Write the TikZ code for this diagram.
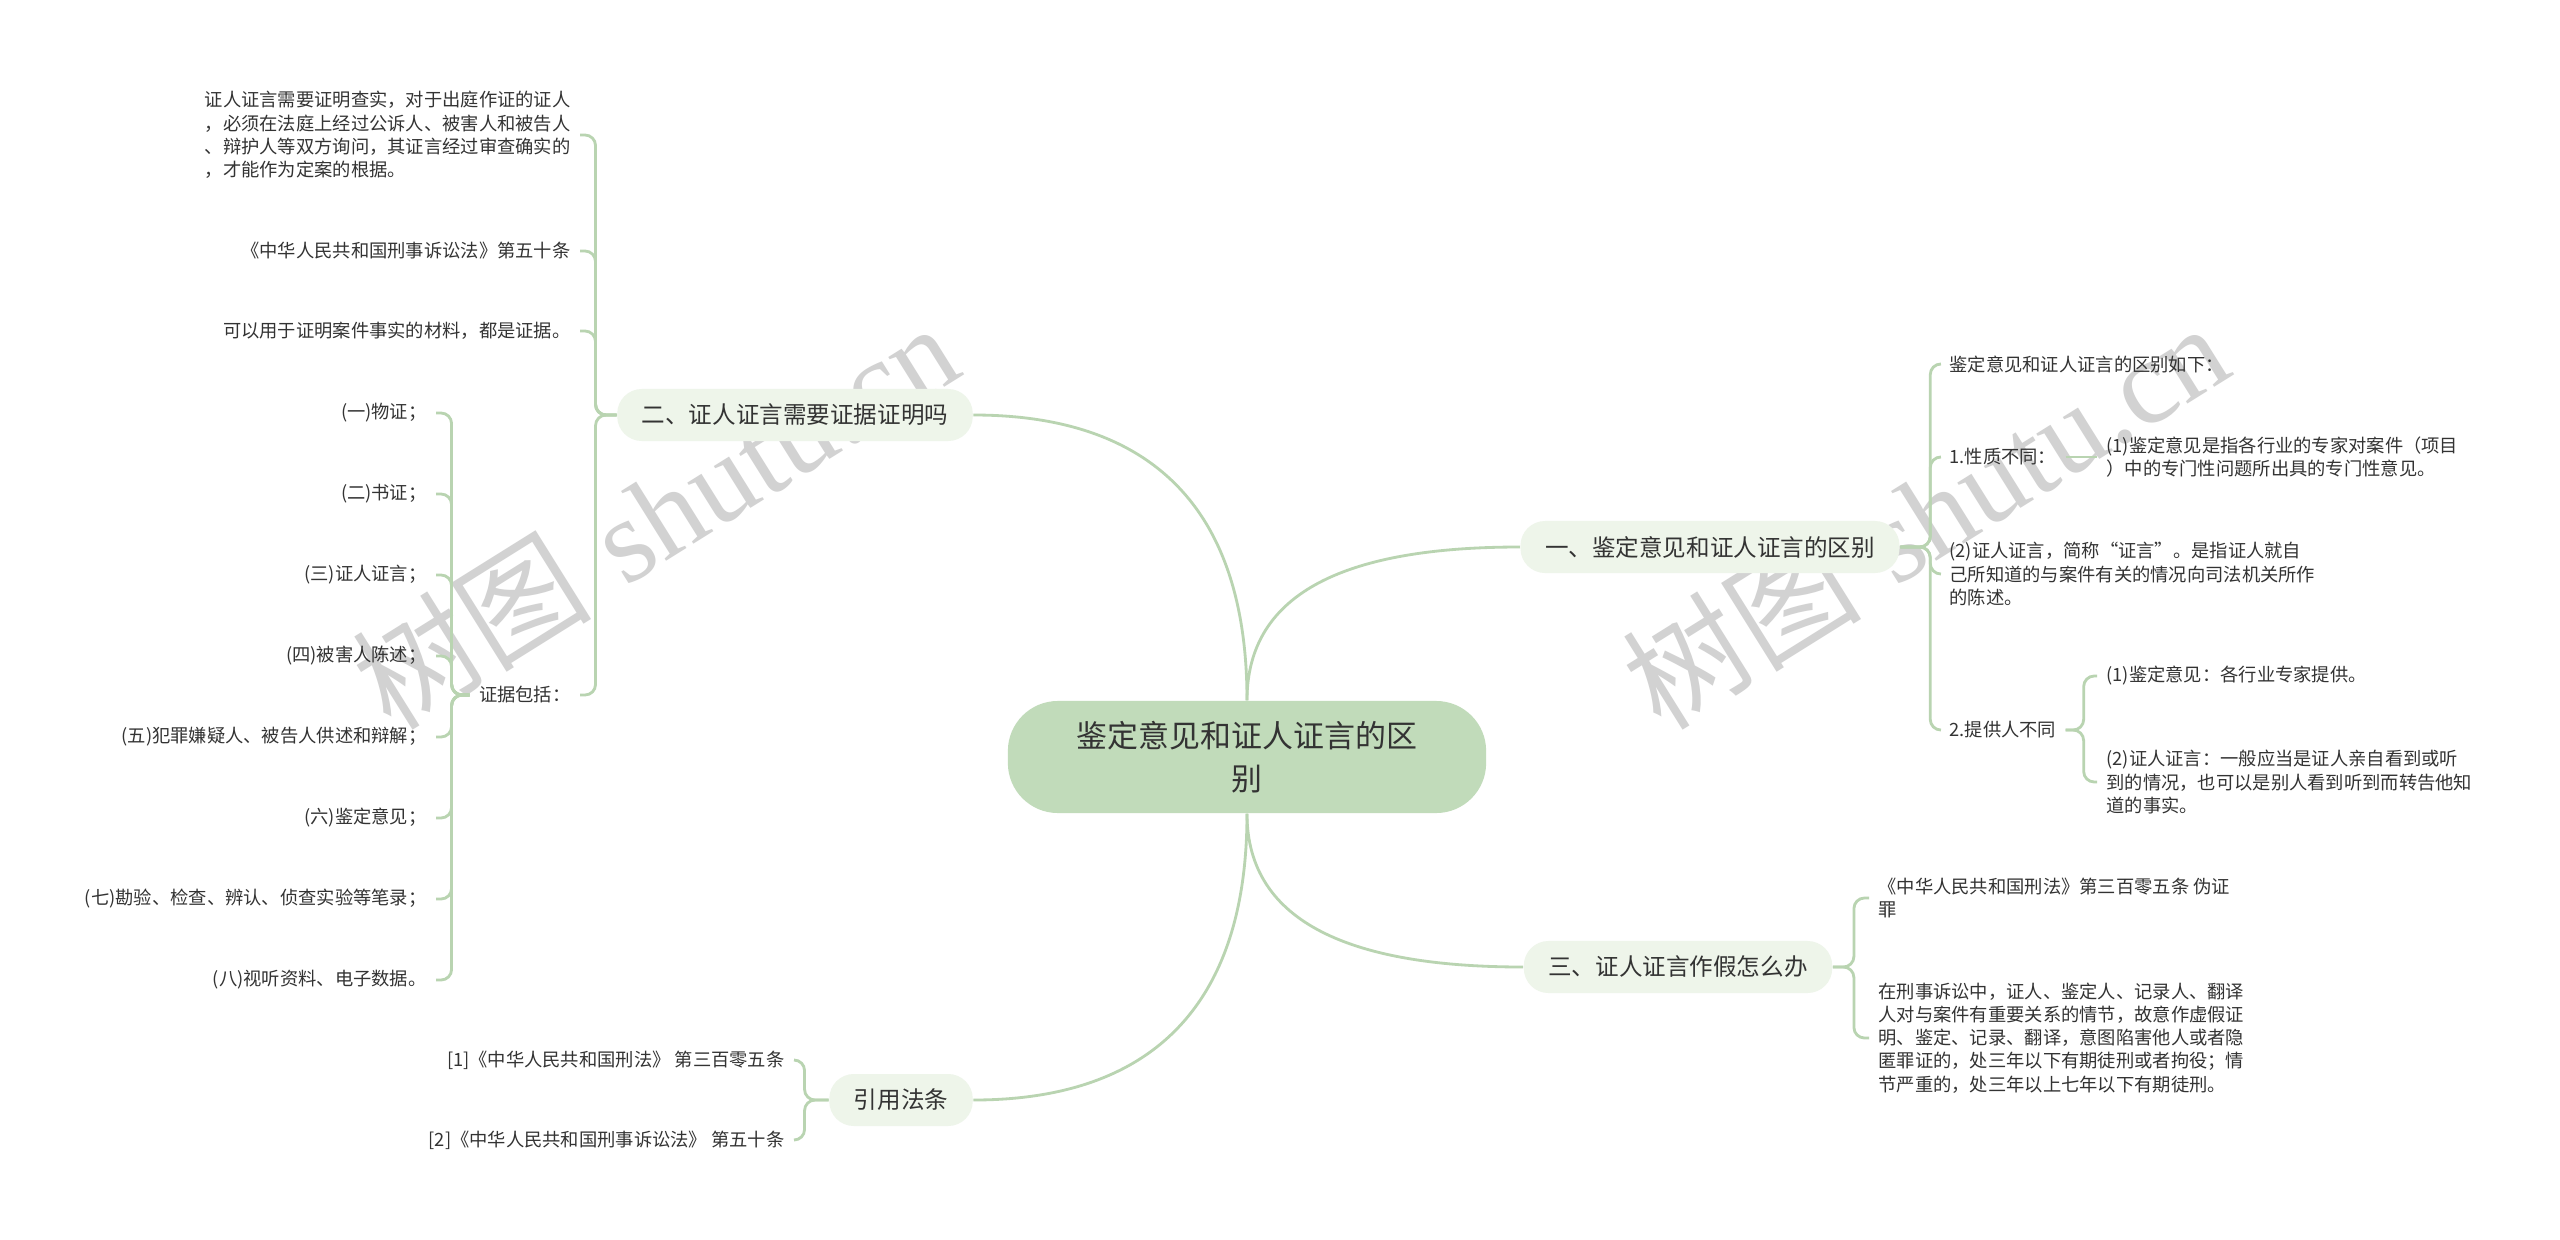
\documentclass[tikz,border=0pt]{standalone}
\usepackage{fontspec}
\usepackage{xcolor}
\usetikzlibrary{positioning, calc}
\newfontfamily\cjk{Noto Sans CJK SC}
\newfontfamily\wmfont{Liberation Serif}
\definecolor{ink}{HTML}{333333}
\definecolor{twig}{HTML}{B9D4B1}
\definecolor{rootfill}{HTML}{C1DBBA}
\definecolor{branchfill}{HTML}{EEF5EA}
\definecolor{wmgray}{HTML}{D2D2D2}

\begin{document}
\begin{tikzpicture}[x=0.01cm, y=-0.01cm, font=\cjk, text=ink,
  rootbox/.style={rectangle, fill=rootfill, rounded corners=0.5cm, minimum width=4.78cm,
                  minimum height=1.12cm, align=center, font=\cjk\fontsize{8.8pt}{12.2pt}\selectfont},
  branchbox/.style={rectangle, fill=branchfill, rounded corners=7pt, inner xsep=7pt,
                    minimum height=0.52cm, font=\cjk\fontsize{6.7pt}{8pt}\selectfont},
  leaf/.style={inner xsep=2.5pt, inner ysep=1pt, align=left, font=\cjk\fontsize{5.2pt}{6.6pt}\selectfont},
  link/.style={draw=twig, line width=0.8pt, rounded corners=3pt},
  wm/.style={text=wmgray, rotate=32, font=\fontsize{34pt}{34pt}\selectfont}]
  \fill[white] (0,0) rectangle (2560,1239);
  \useasboundingbox (0,0) rectangle (2560,1239);

  % watermarks
  \node[wm] (wmL) at (655,515) {{\cjk 树图} {\wmfont shutu.cn}};
  \node[wm] (wmR) at (1925,515) {{\cjk 树图} {\wmfont shutu.cn}};

  % root and main branches
  \node[rootbox] (root) at (1247,757) {鉴定意见和证人证言的区\\别};
  \node[branchbox] (er) at (795,415) {二、证人证言需要证据证明吗};
  \node[branchbox] (yi) at (1710,547) {一、鉴定意见和证人证言的区别};
  \node[branchbox] (san) at (1678,967) {三、证人证言作假怎么办};
  \node[branchbox] (yin) at (901,1100) {引用法条};

  \draw[link] (root.north) .. controls +(0,-200) and +(170,0) .. (er.east);
  \draw[link] (root.north) .. controls +(0,-110) and +(-170,0) .. (yi.west);
  \draw[link] (root.south) .. controls +(0,110) and +(-170,0) .. (san.west);
  \draw[link] (root.south) .. controls +(0,200) and +(170,0) .. (yin.east);

  % left branch
  \node[leaf, anchor=east] (er1) at (580,135) {证人证言需要证明查实，对于出庭作证的证人\\，必须在法庭上经过公诉人、被害人和被告人\\、辩护人等双方询问，其证言经过审查确实的\\，才能作为定案的根据。};
  \node[leaf, anchor=east] (er2) at (580,251) {《中华人民共和国刑事诉讼法》第五十条};
  \node[leaf, anchor=east] (er3) at (580,331) {可以用于证明案件事实的材料，都是证据。};
  \node[leaf, anchor=east] (er4) at (580,695) {证据包括：};
  \foreach \k in {1,...,4}
    \draw[link] (er.west) -- ++(-21,0) |- (er\k.east);

  \foreach \ev [count=\i] in {{(一)物证；}, {(二)书证；}, {(三)证人证言；}, {(四)被害人陈述；},
      {(五)犯罪嫌疑人、被告人供述和辩解；}, {(六)鉴定意见；},
      {(七)勘验、检查、辨认、侦查实验等笔录；}, {(八)视听资料、电子数据。}} {
    \node[leaf, anchor=east] (zj\i) at (436,332+81*\i) {\ev};
    \draw[link] (er4.west) -- ++(-18,0) |- (zj\i.east);
  }

  % right branch one
  \node[leaf, anchor=west] (yi1) at (1940,364) {鉴定意见和证人证言的区别如下：};
  \node[leaf, anchor=west] (yi2) at (1940,457) {1.性质不同：};
  \node[leaf, anchor=west] (yi21) at (2097,457) {(1)鉴定意见是指各行业的专家对案件（项目\\）中的专门性问题所出具的专门性意见。};
  \node[leaf, anchor=west] (yi3) at (1940,574) {(2)证人证言，简称“证言”。是指证人就自\\己所知道的与案件有关的情况向司法机关所作\\的陈述。};
  \node[leaf, anchor=west] (yi4) at (1940,730) {2.提供人不同};
  \node[leaf, anchor=west] (yi41) at (2097,676) {(1)鉴定意见：各行业专家提供。};
  \node[leaf, anchor=west] (yi42) at (2097,782) {(2)证人证言：一般应当是证人亲自看到或听\\到的情况，也可以是别人看到听到而转告他知\\道的事实。};
  \foreach \k in {1,...,4}
    \draw[link] (yi.east) -- ++(30,0) |- (yi\k.west);
  \draw[link] (yi2.east) -- (yi21.west);
  \foreach \k in {41,42}
    \draw[link] (yi4.east) -- ++(18,0) |- (yi\k.west);

  % right branch three
  \node[leaf, anchor=west] (san1) at (1869,898) {《中华人民共和国刑法》第三百零五条 伪证\\罪};
  \node[leaf, anchor=west] (san2) at (1869,1038) {在刑事诉讼中，证人、鉴定人、记录人、翻译\\人对与案件有重要关系的情节，故意作虚假证\\明、鉴定、记录、翻译，意图陷害他人或者隐\\匿罪证的，处三年以下有期徒刑或者拘役；情\\节严重的，处三年以上七年以下有期徒刑。};
  \foreach \k in {1,2}
    \draw[link] (san.east) -- ++(21,0) |- (san\k.west);

  % cited articles
  \node[leaf, anchor=east] (yin1) at (794,1060) {[1]《中华人民共和国刑法》 第三百零五条};
  \node[leaf, anchor=east] (yin2) at (794,1140) {[2]《中华人民共和国刑事诉讼法》 第五十条};
  \foreach \k in {1,2}
    \draw[link] (yin.west) -- ++(-24,0) |- (yin\k.east);
\end{tikzpicture}
\end{document}
